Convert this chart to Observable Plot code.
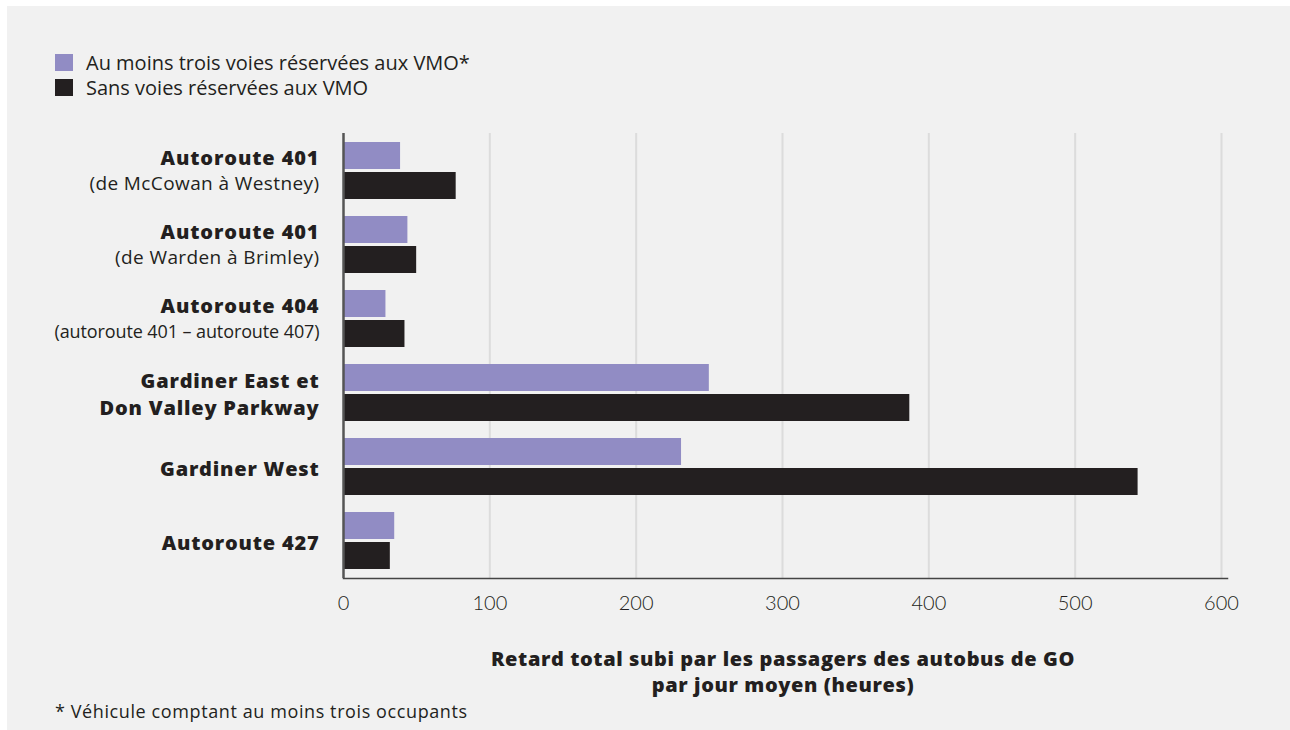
<!DOCTYPE html>
<html>
<head>
<meta charset="utf-8">
<script src="https://cdn.jsdelivr.net/npm/d3@7"></script>
<script src="https://cdn.jsdelivr.net/npm/@observablehq/plot@0.6"></script>
<style>
  html, body { margin: 0; padding: 0; background: #ffffff; }
  body { width: 1290px; height: 730px; position: relative; overflow: hidden; font-family: "Open Sans", "DejaVu Sans", sans-serif; color: #231f20; }
  #panel { position: absolute; left: 7px; top: 6px; right: 0; bottom: 0; background: #f1f1f1; }
  #legend { position: absolute; left: 55px; top: 50px; font-size: 20px; line-height: 25px; }
  .li { display: flex; align-items: center; }
  .sw { width: 18px; height: 17px; margin-right: 13px; }
  #chart { position: absolute; left: 0; top: 110px; }
  #xtitle { position: absolute; left: 783px; top: 646px; transform: translateX(-50%); text-align: center; font-weight: 800; font-size: 20px; letter-spacing: 0.6px; line-height: 26px; white-space: nowrap; }
  #note { position: absolute; left: 55px; top: 699px; font-size: 18px; letter-spacing: 0.6px; }
</style>
</head>
<body>
<div id="panel"></div>
<div id="legend"></div>
<div id="chart"></div>
<div id="xtitle"></div>
<div id="note"></div>
<script>
// Data
const categories = [
  "Autoroute 401 (de McCowan à Westney)",
  "Autoroute 401 (de Warden à Brimley)",
  "Autoroute 404 (autoroute 401 – autoroute 407)",
  "Gardiner East et Don Valley Parkway",
  "Gardiner West",
  "Autoroute 427"
];
const titles = [
  "Autoroute 401",
  "Autoroute 401",
  "Autoroute 404",
  "Gardiner East et\nDon Valley Parkway",
  "Gardiner West",
  "Autoroute 427"
];
const subtitles = [
  "(de McCowan à Westney)",
  "(de Warden à Brimley)",
  "(autoroute 401 – autoroute 407)",
  "",
  "",
  ""
];
const seriesNames = ["Au moins trois voies réservées aux VMO*", "Sans voies réservées aux VMO"];
const withHOV = [39, 44, 29, 250, 231, 35];
const withoutHOV = [77, 50, 42, 387, 543, 32];
const xTicks = [0, 100, 200, 300, 400, 500, 600];
const xTitleLines = ["Retard total subi par les passagers des autobus de GO", "par jour moyen (heures)"];
const footnote = "* Véhicule comptant au moins trois occupants";

const colors = ["#918cc4", "#231f20"];

const data = categories.map((c, i) => ({cat: c, title: titles[i], sub: subtitles[i], a: withHOV[i], b: withoutHOV[i]}));

// Legend
const legend = document.getElementById("legend");
seriesNames.forEach((n, i) => {
  const d = document.createElement("div");
  d.className = "li";
  const s = document.createElement("span");
  s.className = "sw";
  s.style.background = colors[i];
  const t = document.createElement("span");
  t.textContent = n;
  d.appendChild(s); d.appendChild(t);
  legend.appendChild(d);
});

const plot = Plot.plot({
  width: 1290,
  height: 520,
  marginTop: 23,
  marginBottom: 52,
  marginLeft: 343,
  marginRight: 69,
  style: {background: "transparent", fontFamily: "'Open Sans', sans-serif", color: "#231f20", overflow: "visible"},
  x: {domain: [0, 600], ticks: xTicks, label: null},
  y: {domain: categories, paddingInner: 0.233, paddingOuter: 0.1165, axis: null},
  marks: [
    Plot.ruleX(xTicks.slice(1), {stroke: "#dcdcdc", strokeWidth: 2}),
    Plot.barX(data, {x: "a", y: "cat", fill: colors[0], insetBottom: 30}),
    Plot.barX(data, {x: "b", y: "cat", fill: colors[1], insetTop: 30}),
    Plot.frame({anchor: "bottom", stroke: "#444444", strokeWidth: 1.5, insetRight: -6}),
    Plot.ruleX([0], {stroke: "#555555", strokeWidth: 2.5}),
    Plot.axisX({ticks: xTicks, tickSize: 0, tickPadding: 17, fontSize: 20, fontWeight: 300, fontFamily: "Lato, sans-serif", label: null, fill: "#231f20"}),
    Plot.text(data, {filter: d => d.sub !== "", x: () => 0, y: "cat", text: "title", textAnchor: "end", dx: -24, dy: -12, fontSize: 20, fontWeight: 800, fill: "#231f20"}),
    Plot.text(data, {filter: d => d.sub === "", x: () => 0, y: "cat", text: "title", textAnchor: "end", dx: -24, dy: 0, fontSize: 20, fontWeight: 800, lineHeight: 1.35, fill: "#231f20"}),
    Plot.text(data, {filter: d => d.sub !== "", x: () => 0, y: "cat", text: "sub", textAnchor: "end", dx: -24, dy: 13, fontSize: 19, fontWeight: 400, fill: "#231f20"})
  ]
});
const textGroups = plot.querySelectorAll('g[aria-label="text"]');
if (textGroups[0]) textGroups[0].style.letterSpacing = "0.9px";
if (textGroups[1]) textGroups[1].style.letterSpacing = "0.8px";
if (textGroups[2]) {
  textGroups[2].style.letterSpacing = "0.4px";
  textGroups[2].querySelectorAll("text").forEach(t => {
    if (t.textContent.startsWith("(autoroute")) { t.style.fontSize = "18px"; t.style.letterSpacing = "-0.1px"; }
  });
}
document.getElementById("chart").appendChild(plot);

const xt = document.getElementById("xtitle");
xTitleLines.forEach(l => { const d = document.createElement("div"); d.textContent = l; xt.appendChild(d); });
document.getElementById("note").textContent = footnote;
</script>
</body>
</html>
